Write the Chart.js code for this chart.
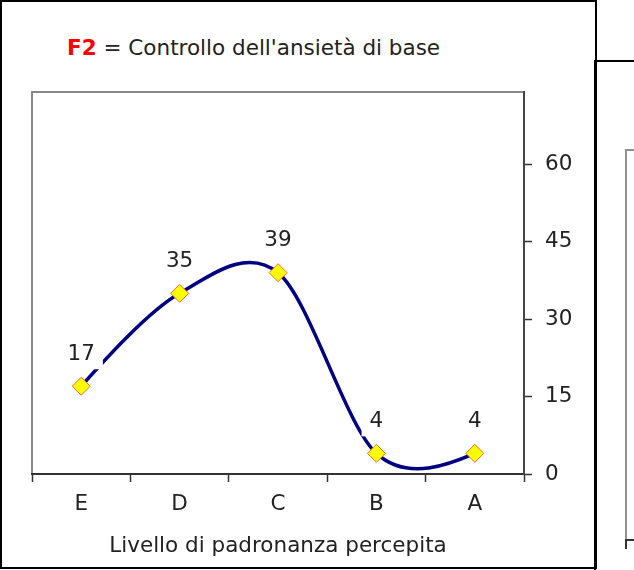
<!DOCTYPE html>
<html>
<head>
<meta charset="utf-8">
<script src="https://cdn.jsdelivr.net/npm/chart.js@4"></script>
<style>
  body { margin: 0; background: #fff; }
  #wrap { position: relative; width: 634px; height: 570px; overflow: hidden; }
  #frame1 { position: absolute; left: 0; top: 0; width: 593px; height: 565px; border: 2px solid #000; }
  #frame2 { position: absolute; left: 594px; top: 60px; width: 100px; height: 600px; border: 2px solid #000; }
  #plot2 { position: absolute; left: 625px; top: 149px; width: 40px; height: 390px; border-left: 2px solid #909090; border-top: 2px solid #909090; }
  #tick2 { position: absolute; left: 625px; top: 539px; width: 9px; height: 8px; border-left: 2px solid #333; border-top: 2px solid #333; }
  #title { position: absolute; left: 67px; top: 35px; font-family: "DejaVu Sans", Verdana, sans-serif; font-size: 21.5px; color: #222; white-space: nowrap; }
  #title b { color: #ff0000; }
  canvas { position: absolute; left: 0; top: 0; }
</style>
</head>
<body>
<div id="wrap">
  <div id="frame1"></div>
  <div id="frame2"></div>
  <div id="plot2"></div>
  <div id="tick2"></div>
  <div id="title"><b>F2</b> = Controllo dell'ansietà di base</div>
  <canvas id="myChart" width="634" height="570"></canvas>
</div>
<script>

// data
const categories = ['E', 'D', 'C', 'B', 'A'];
const values = [17, 35, 39, 4, 4];
const yTicks = [0, 15, 30, 45, 60];
const xTitle = 'Livello di padronanza percepita';

const FONT = 'DejaVu Sans';
const SMOOTH = 0.16; // excel-like smoothing factor
const END_F = 0.35;  // how far the end tangents lean to the neighbour

// gray border around plot area (top + left show, axes draw over the rest)
const plotBorder = {
  id: 'plotBorder',
  beforeDraw(chart) {
    const a = chart.chartArea;
    const c = chart.ctx;
    c.save();
    c.strokeStyle = '#888888';
    c.lineWidth = 2;
    c.strokeRect(a.left, a.top, a.right - a.left, a.bottom - a.top);
    c.restore();
  }
};

// excel style smoothing: uniform catmull-rom control points
const excelSmooth = {
  id: 'excelSmooth',
  beforeDatasetDraw(chart, args) {
    const meta = args.meta;
    meta.dataset.updateControlPoints(chart.chartArea, 'x');
    const pts = meta.data;
    const n = pts.length;
    for (let i = 1; i < n - 1; i++) {
      const p = pts[i], prev = pts[i - 1], next = pts[i + 1];
      p.cp1x = p.x - SMOOTH * (next.x - prev.x);
      p.cp1y = p.y - SMOOTH * (next.y - prev.y);
      p.cp2x = p.x + SMOOTH * (next.x - prev.x);
      p.cp2y = p.y + SMOOTH * (next.y - prev.y);
    }
    const first = pts[0], last = pts[n - 1];
    first.cp1x = first.x; first.cp1y = first.y;
    first.cp2x = first.x + (pts[1].cp1x - first.x) * END_F;
    first.cp2y = first.y + (pts[1].cp1y - first.y) * END_F;
    last.cp2x = last.x; last.cp2y = last.y;
    last.cp1x = last.x + (pts[n - 2].cp2x - last.x) * END_F;
    last.cp1y = last.y + (pts[n - 2].cp2y - last.y) * END_F;
  }
};

// value labels above the markers
const valueLabels = {
  id: 'valueLabels',
  afterDatasetsDraw(chart) {
    const c = chart.ctx;
    const meta = chart.getDatasetMeta(0);
    c.save();
    c.font = '21.5px "' + FONT + '"';
    c.textAlign = 'center';
    c.textBaseline = 'middle';
    meta.data.forEach(function(p, i) {
      const txt = String(values[i]);
      const w = c.measureText(txt).width;
      c.fillStyle = '#ffffff';
      c.fillRect(p.x - w / 2 - 8, p.y - 48, w + 16, 31);
      c.fillStyle = '#222222';
      c.fillText(txt, p.x, p.y - 32);
    });
    c.restore();
  }
};

const ctx = document.getElementById('myChart');

new Chart(ctx, {
  type: 'line',
  data: {
    labels: categories,
    datasets: [{
      data: values,
      borderColor: '#000080',
      borderWidth: 3.5,
      tension: 0.4,
      pointStyle: 'rectRot',
      pointRadius: 9,
      pointHoverRadius: 9,
      pointBackgroundColor: '#ffff00',
      pointBorderColor: '#ff6633',
      pointBorderWidth: 1,
      clip: false
    }]
  },
  options: {
    responsive: false,
    animation: false,
    events: [],
    layout: { padding: { left: 32, top: 92, right: 0, bottom: 0 } },
    plugins: {
      legend: { display: false },
      tooltip: { enabled: false }
    },
    scales: {
      x: {
        type: 'category',
        offset: true,
        afterFit(scale) { scale.height = 96; },
        grid: {
          offset: true,
          drawOnChartArea: false,
          drawTicks: true,
          tickLength: 8,
          tickWidth: 1.5,
          tickColor: '#333333'
        },
        border: { display: true, color: '#333333', width: 2 },
        ticks: {
          padding: 10,
          color: '#222222',
          font: { family: FONT, size: 21.5 }
        },
        title: {
          display: true,
          text: xTitle,
          color: '#222222',
          font: { family: FONT, size: 21.5 },
          padding: { top: 4, bottom: 11 }
        }
      },
      y: {
        position: 'right',
        min: 0,
        max: 74,
        afterFit(scale) { scale.width = 110; },
        afterBuildTicks(scale) {
          scale.ticks = yTicks.map(function(v) { return { value: v }; });
        },
        grid: {
          drawOnChartArea: false,
          drawTicks: true,
          tickLength: 8,
          tickWidth: 1.5,
          tickColor: '#333333'
        },
        border: { display: true, color: '#444444', width: 2 },
        ticks: {
          padding: 13,
          color: '#222222',
          font: { family: FONT, size: 21.5 }
        }
      }
    }
  },
  plugins: [plotBorder, excelSmooth, valueLabels]
});

</script>
</body>
</html>
